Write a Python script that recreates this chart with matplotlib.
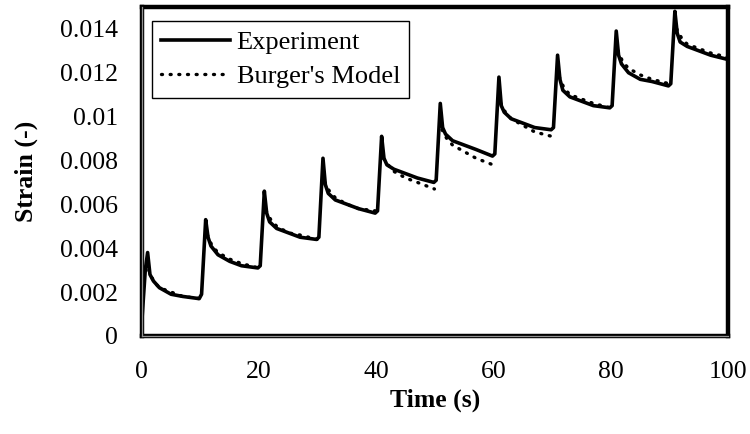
import matplotlib.pyplot as plt
import numpy as np
from matplotlib.ticker import FuncFormatter

plt.rcParams['font.family'] = ['Liberation Serif', 'DejaVu Serif']

# experiment (load applied every 10 s)
exp_time = [0, 0.6, 1.0, 1.4, 2.0, 3.0, 5.0, 7.0, 9.8,
            10.2, 10.9, 11.3, 11.8, 13, 15, 17, 19.8,
            20.2, 20.9, 21.3, 21.8, 23, 25, 27, 29.8,
            30.2, 30.9, 31.3, 31.8, 33, 35, 37, 39.8,
            40.2, 40.9, 41.3, 41.8, 43, 45, 47, 49.8,
            50.2, 50.9, 51.3, 51.8, 53, 55, 57, 59.8,
            60.2, 60.9, 61.3, 61.8, 63, 65, 67, 69.8,
            70.2, 70.9, 71.3, 71.8, 73, 75, 77, 79.8,
            80.2, 80.9, 81.3, 81.8, 83, 85, 87, 89.8,
            90.2, 90.9, 91.3, 91.8, 93, 95, 97, 100]
exp_strain = [0.0006, 0.0030, 0.0038, 0.0028, 0.0025, 0.0022, 0.0019, 0.0018, 0.0017,
              0.0019, 0.0053, 0.0045, 0.0041, 0.0037, 0.0034, 0.0032, 0.0031,
              0.0032, 0.0066, 0.0056, 0.0052, 0.0049, 0.0047, 0.0045, 0.0044,
              0.0045, 0.0081, 0.0069, 0.0065, 0.0062, 0.0060, 0.0058, 0.0056,
              0.0057, 0.0091, 0.0081, 0.0078, 0.0076, 0.0074, 0.0072, 0.0070,
              0.0071, 0.0106, 0.0095, 0.0092, 0.0089, 0.0087, 0.0085, 0.0082,
              0.0083, 0.0118, 0.0105, 0.0102, 0.0099, 0.0097, 0.0095, 0.0094,
              0.0095, 0.0128, 0.0117, 0.0112, 0.0109, 0.0107, 0.0105, 0.0104,
              0.0105, 0.0139, 0.0128, 0.0124, 0.0120, 0.0117, 0.0116, 0.0114,
              0.0115, 0.0148, 0.0138, 0.0134, 0.0132, 0.0130, 0.0128, 0.0126]

# Burger's model, one segment per cycle (nan breaks the line between cycles)
model_time = [1.2, 2, 3, 5, 7, 9.9, np.nan,
              11.2, 12, 13, 15, 17, 19.9, np.nan,
              21.2, 22, 23, 25, 27, 29.9, np.nan,
              31.2, 32, 33, 35, 37, 39.9, np.nan,
              41.2, 42, 43, 45, 47, 49.9, np.nan,
              51.2, 52, 53, 55, 57, 59.9, np.nan,
              61.2, 62, 63, 65, 67, 69.9, np.nan,
              71.2, 72, 73, 75, 77, 79.9, np.nan,
              81.2, 82, 83, 85, 87, 89.9, np.nan,
              91.2, 92, 93, 95, 97, 100]
model_strain = [0.0030, 0.0025, 0.0022, 0.0020, 0.0018, 0.0017, np.nan,
                0.0046, 0.0041, 0.0038, 0.0035, 0.0033, 0.0031, np.nan,
                0.0057, 0.0053, 0.0050, 0.0047, 0.0046, 0.0044, np.nan,
                0.0070, 0.0066, 0.0063, 0.0060, 0.0058, 0.0057, np.nan,
                0.0081, 0.0078, 0.0075, 0.0072, 0.0070, 0.0067, np.nan,
                0.0094, 0.0090, 0.0087, 0.0084, 0.0081, 0.0078, np.nan,
                0.0106, 0.0102, 0.0099, 0.0096, 0.0093, 0.0091, np.nan,
                0.0118, 0.0113, 0.0110, 0.0108, 0.0106, 0.0104, np.nan,
                0.0130, 0.0125, 0.0122, 0.0119, 0.0117, 0.0115, np.nan,
                0.0140, 0.0136, 0.0133, 0.0131, 0.0129, 0.0127]

x_ticks = [0, 20, 40, 60, 80, 100]
y_ticks = [0, 0.002, 0.004, 0.006, 0.008, 0.01, 0.012, 0.014]

fig = plt.figure(figsize=(7.5, 4.34), dpi=100)
ax = fig.add_axes([0.189, 0.226, 0.782, 0.758])

ax.plot(exp_time, exp_strain, color='black', lw=2.6, label='Experiment',
        solid_joinstyle='round')
ax.plot(model_time, model_strain, color='black', lw=2.4, linestyle=(0, (0.3, 2.3)),
        dash_capstyle='round', label="Burger's Model")

ax.set_xlim(0, 100)
ax.set_ylim(0, 0.015)
ax.set_xticks(x_ticks)
ax.set_yticks(y_ticks)
ax.yaxis.set_major_formatter(FuncFormatter(lambda v, p: f'{v:g}'))
ax.tick_params(length=0, labelsize=18.5)
ax.tick_params(axis='y', pad=17)
ax.tick_params(axis='x', pad=18)

for s in ax.spines.values():
    s.set_linewidth(3.2)
    s.set_color('black')
# grey inner stripe of the frame
ax.axvline(0, color='#909090', lw=0.9, clip_on=False, zorder=5)
ax.axhline(0, color='#909090', lw=0.9, clip_on=False, zorder=5)

ax.set_xlabel('Time (s)', fontsize=18.5, fontweight='bold', labelpad=4)
ax.set_ylabel('Strain (-)', fontsize=18.5, fontweight='bold', labelpad=16)

leg = ax.legend(loc='upper left', bbox_to_anchor=(0.017, 0.957), fontsize=19,
                frameon=True, fancybox=False, framealpha=1, edgecolor='black',
                handlelength=2.6, handletextpad=0.27, borderpad=0.35,
                labelspacing=0.42, borderaxespad=0)
leg.get_frame().set_linewidth(1.0)

fig.savefig('out.png', dpi=100)
